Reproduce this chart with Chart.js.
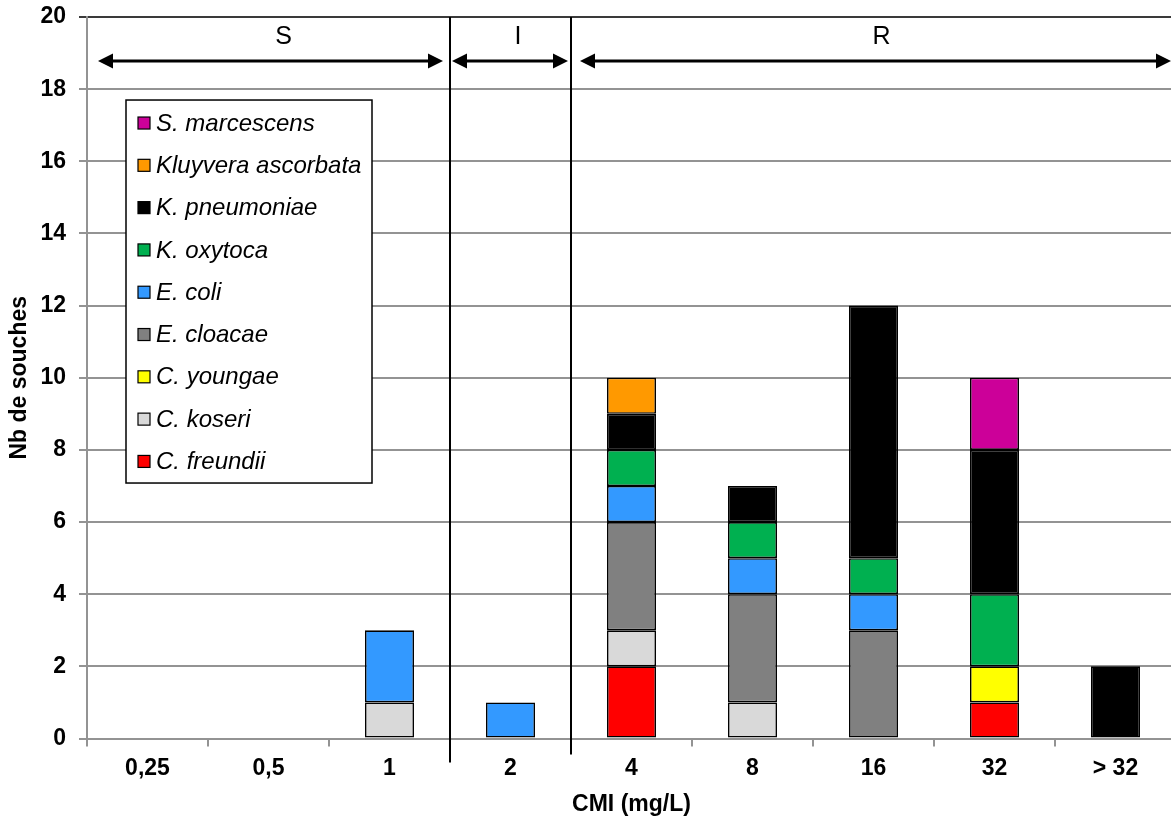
<!DOCTYPE html>
<html>
<head>
<meta charset="utf-8">
<script src="https://cdn.jsdelivr.net/npm/chart.js@4/dist/chart.umd.min.js"></script>
<style>
  html, body { margin: 0; padding: 0; background: #fff; width: 1171px; height: 818px; overflow: hidden; }
  #wrap { position: relative; width: 1180px; height: 818px; }
</style>
</head>
<body>
<div id="wrap"><canvas id="c"></canvas></div>
<script>
// ---- Data ----
const categories = ['0,25', '0,5', '1', '2', '4', '8', '16', '32', '> 32'];
const cFreundii   = [null, null, null, null, 2, null, null, 1, null];
const cKoseri     = [null, null, 1, null, 1, 1, null, null, null];
const cYoungae    = [null, null, null, null, null, null, null, 1, null];
const eCloacae    = [null, null, null, null, 3, 3, 3, null, null];
const eColi       = [null, null, 2, 1, 1, 1, 1, null, null];
const kOxytoca    = [null, null, null, null, 1, 1, 1, 2, null];
const kPneumoniae = [null, null, null, null, 1, 1, 7, 4, 2];
const kluyvera    = [null, null, null, null, 1, null, null, null, null];
const sMarcescens = [null, null, null, null, null, null, null, 2, null];

const seriesNames  = ['C. freundii', 'C. koseri', 'C. youngae', 'E. cloacae', 'E. coli', 'K. oxytoca', 'K. pneumoniae', 'Kluyvera ascorbata', 'S. marcescens'];
const seriesValues = [cFreundii, cKoseri, cYoungae, eCloacae, eColi, kOxytoca, kPneumoniae, kluyvera, sMarcescens];
const seriesColors = ['#FF0000', '#D9D9D9', '#FFFF00', '#808080', '#3399FF', '#00B050', '#000000', '#FF9900', '#CC0099'];

const zoneLabels = ['S', 'I', 'R'];
const yTicks = { min: 0, max: 20, step: 2 };
const xTitle = 'CMI (mg/L)';
const yTitle = 'Nb de souches';

const FONT = "'Liberation Sans', Arial, sans-serif";

const datasets = seriesNames.map((name, i) => ({
  label: name,
  data: seriesValues[i],
  backgroundColor: seriesColors[i],
  borderColor: '#000',
  borderWidth: 1.6,
  borderSkipped: false,
  barPercentage: 0.405,
  categoryPercentage: 1.0
}));

function drawArrow(ctx, x1, x2, y) {
  const hl = 15, hh = 7.5;
  ctx.beginPath();
  ctx.moveTo(x1 + hl - 1, y);
  ctx.lineTo(x2 - hl + 1, y);
  ctx.stroke();
  ctx.beginPath();
  ctx.moveTo(x1, y); ctx.lineTo(x1 + hl, y - hh); ctx.lineTo(x1 + hl, y + hh); ctx.closePath(); ctx.fill();
  ctx.beginPath();
  ctx.moveTo(x2, y); ctx.lineTo(x2 - hl, y - hh); ctx.lineTo(x2 - hl, y + hh); ctx.closePath(); ctx.fill();
}

const overlay = {
  id: 'overlay',
  afterDatasetsDraw(chart) {
    const ctx = chart.ctx, xs = chart.scales.x, ys = chart.scales.y, ca = chart.chartArea;
    const b1 = (xs.getPixelForValue(2) + xs.getPixelForValue(3)) / 2;
    const b2 = (xs.getPixelForValue(3) + xs.getPixelForValue(4)) / 2;
    ctx.save();
    // separators
    ctx.strokeStyle = '#000';
    ctx.lineWidth = 2;
    ctx.beginPath(); ctx.moveTo(b1, ca.top); ctx.lineTo(b1, ca.bottom + 24); ctx.stroke();
    ctx.beginPath(); ctx.moveTo(b2, ca.top); ctx.lineTo(b2, ca.bottom + 16); ctx.stroke();
    // arrows
    const ya = ys.getPixelForValue(18.78);
    const yt = ys.getPixelForValue(19.45);
    ctx.lineWidth = 3;
    ctx.fillStyle = '#000';
    const zones = [[ca.left + 11, b1 - 7], [b1 + 2, b2 - 3], [b2 + 9, ca.right - 5]];
    const textShift = [13, 8, 6];
    ctx.font = '400 25px ' + FONT;
    ctx.textAlign = 'center';
    ctx.textBaseline = 'middle';
    zones.forEach((z, i) => {
      drawArrow(ctx, z[0], z[1], ya);
      ctx.fillText(zoneLabels[i], (z[0] + z[1]) / 2 + textShift[i], yt);
    });
    // legend
    const bx = ca.left + 39, by = ca.top + 83, bw = 246, bh = 383;
    ctx.fillStyle = '#fff';
    ctx.fillRect(bx, by, bw, bh);
    ctx.lineWidth = 1.5;
    ctx.strokeStyle = '#000';
    ctx.strokeRect(bx, by, bw, bh);
    ctx.font = 'italic 400 24px ' + FONT;
    ctx.textAlign = 'left';
    const n = seriesNames.length;
    for (let k = 0; k < n; k++) {
      const idx = n - 1 - k;
      const cy = by + 23 + k * 42.3;
      ctx.fillStyle = seriesColors[idx];
      ctx.fillRect(bx + 12, cy - 6, 12, 12);
      ctx.lineWidth = 1.2;
      ctx.strokeStyle = '#000';
      ctx.strokeRect(bx + 12, cy - 6, 12, 12);
      ctx.fillStyle = '#000';
      ctx.fillText(seriesNames[idx], bx + 30, cy + 1);
    }
    ctx.restore();
  }
};

new Chart(document.getElementById('c'), {
  type: 'bar',
  data: { labels: categories, datasets },
  options: {
    responsive: true,
    maintainAspectRatio: false,
    animation: false,
    layout: { padding: { top: 0, right: 4, bottom: 0, left: 0 } },
    plugins: { legend: { display: false }, tooltip: { enabled: false } },
    scales: {
      x: {
        stacked: true,
        afterFit(scale) { scale.height = 79.5; },
        grid: { display: true, drawOnChartArea: false, drawTicks: true, tickLength: 8, color: '#939393', lineWidth: 2, offset: true },
        border: { display: true, color: '#939393', width: 2 },
        ticks: { color: '#000', font: { family: FONT, size: 23, weight: 'bold' }, padding: 8, maxRotation: 0 },
        title: { display: true, text: xTitle, color: '#000', font: { family: FONT, size: 23, weight: 'bold' }, padding: { top: 0, bottom: 0 } }
      },
      y: {
        stacked: true,
        min: yTicks.min, max: yTicks.max,
        afterFit(scale) { scale.width = 87; },
        grid: {
          color: (c) => (c.tick && c.tick.value === yTicks.max) ? '#3a3a3a' : '#939393',
          lineWidth: 2, tickLength: 8, drawTicks: true
        },
        border: { display: true, color: '#939393', width: 2 },
        ticks: { stepSize: yTicks.step, color: '#000', font: { family: FONT, size: 23, weight: 'bold', lineHeight: 0.35 }, padding: 13 },
        title: { display: true, text: yTitle, color: '#000', font: { family: FONT, size: 23, weight: 'bold' }, padding: { top: 6, bottom: 0 } }
      }
    }
  },
  plugins: [overlay]
});
</script>
</body>
</html>
